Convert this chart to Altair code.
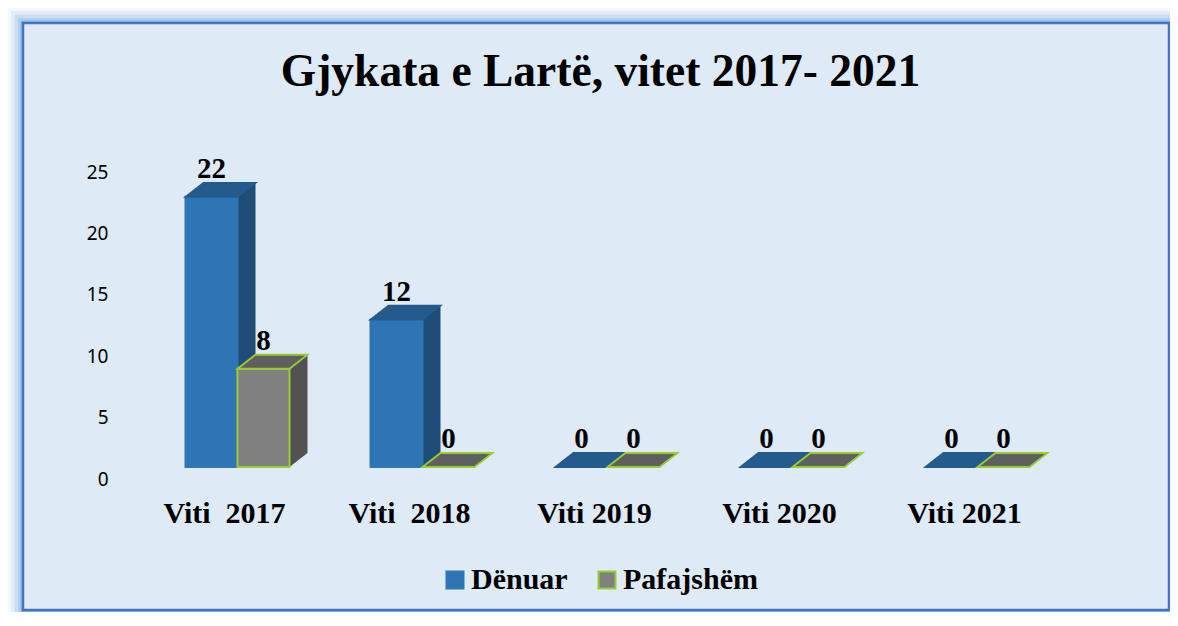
import altair as alt
import pandas as pd

# ---- data ----
years = ["Viti\u00a0\u00a02017", "Viti\u00a0\u00a02018", "Viti 2019", "Viti 2020", "Viti 2021"]
series = ["Dënuar", "Pafajshëm"]
denuar = [22, 12, 0, 0, 0]
pafajshem = [8, 0, 0, 0, 0]
y_ticks = [0, 5, 10, 15, 20, 25]
title_text = "Gjykata e Lartë, vitet 2017- 2021"

rows = []
for i, yr in enumerate(years):
    rows.append({"year": yr, "series": series[0], "value": denuar[i]})
    rows.append({"year": yr, "series": series[1], "value": pafajshem[i]})
df = pd.DataFrame(rows)

# ---- styles ----
BLUE, BLUE_SIDE, BLUE_TOP = "#2E75B6", "#1F4C78", "#255A8D"
GRAY, GRAY_SIDE, GRAY_TOP = "#808080", "#525252", "#5F5F5F"
LIME = "#99CC33"
SERIF = "Liberation Serif"
W, H = 955, 307
BAND = 104  # group band width in px (for 3D side offset)
DEPTH = 18

is_d = alt.datum.series == series[0]

x_enc = alt.X(
    "year:N", sort=years,
    scale=alt.Scale(paddingInner=0.4378, paddingOuter=0.3),
    axis=alt.Axis(title=None, labelFont=SERIF, labelFontWeight="bold", labelFontSize=30,
                  labelColor="black", labelAngle=0, ticks=False, tickSize=0, domain=False,
                  labelPadding=31, labelOffset=-13, zindex=2),
)
y_enc = alt.Y(
    "value:Q", scale=alt.Scale(domain=[0, 25], nice=False),
    axis=alt.Axis(title=None, values=y_ticks, grid=False, domain=False, ticks=False, tickSize=0,
                  labelFont="Noto Sans", labelFontSize=19, labelColor="black",
                  labelPadding=22, labelOffset=12, zindex=2),
)
xo = alt.XOffset("series:N", sort=series)

base = alt.Chart(df)

# panel background with glow
frame_df = pd.DataFrame({"a": [0]})
glows = []
for sw, col in [(30, "#F3F8FD"), (24, "#E2EDF9"), (17, "#CADDF3"), (10, "#B2CFEE"), (5, "#97BDE8")]:
    glows.append(
        alt.Chart(frame_df).mark_rect(fill=None, stroke=col, strokeWidth=sw).encode(
            x=alt.value(-107), x2=alt.value(1039), y=alt.value(-137), y2=alt.value(450))
    )
panel = alt.Chart(frame_df).mark_rect(fill="#DEEAF6", stroke="#4472C4", strokeWidth=2.5).encode(
    x=alt.value(-107), x2=alt.value(1039), y=alt.value(-137), y2=alt.value(450))

# side faces (shifted copy)
side = base.mark_bar(yOffset=-14, y2Offset=-14).encode(
    x=x_enc,
    xOffset=alt.XOffset("series:N", sort=series,
                        scale=alt.Scale(range=[DEPTH, DEPTH + BAND])),
    y=y_enc,
    color=alt.condition(is_d, alt.value(BLUE_SIDE), alt.value(GRAY_SIDE)),
)

# bottom triangle fill of side faces
tri_path = "M0.743,-0.4L0.743,0L1.257,-0.4Z"
bottom = base.mark_point(
    shape=tri_path, size=4900, filled=True, opacity=1).encode(
    x=x_enc, xOffset=xo,
    y=alt.Y("value:Q", scale=alt.Scale(domain=[0, 25], nice=False)),
    color=alt.condition(is_d, alt.value(BLUE_SIDE), alt.value(GRAY_SIDE)),
).transform_calculate(value="0")

legend_def = dict(title=None, orient="none", legendX=310, legendY=405,
                  direction="horizontal", symbolType="square",
                  symbolSize=289, symbolStrokeWidth=2, padding=0,
                  labelFont=SERIF, labelFontWeight="bold", labelFontSize=30,
                  labelColor="black", labelOffset=1, columnPadding=24, zindex=2)

# front faces
front = base.mark_bar(strokeWidth=2).encode(
    x=x_enc, xOffset=xo, y=y_enc,
    color=alt.Color("series:N", sort=series,
                    scale=alt.Scale(domain=series, range=[BLUE, GRAY]),
                    legend=alt.Legend(**legend_def)),
    stroke=alt.Stroke("series:N", sort=series,
                      scale=alt.Scale(domain=series, range=[BLUE, LIME]),
                      legend=alt.Legend(**legend_def)),
)

# top faces (parallelogram symbols)
top_path = "M-0.743,0L-0.229,-0.4L1.257,-0.4L0.743,0Z"
top = base.mark_point(shape=top_path, size=4900, filled=True, opacity=1, strokeWidth=1.8).encode(
    x=x_enc, xOffset=xo, y=y_enc,
    fill=alt.condition(is_d, alt.value(BLUE_TOP), alt.value(GRAY_TOP)),
    stroke=alt.condition(is_d, alt.value(BLUE_TOP), alt.value(LIME)),
)

labels = base.mark_text(font=SERIF, fontWeight="bold", fontSize=29, dy=-19,
                        baseline="alphabetic", color="black").encode(
    x=x_enc, xOffset=xo, y=y_enc, text=alt.Text("value:Q"),
)

chart = alt.layer(*glows, panel, side, bottom, front, top, labels).resolve_scale(
    xOffset="independent"
).properties(
    width=W, height=H,
    title=alt.TitleParams(title_text, font=SERIF, fontWeight="bold", fontSize=45.5,
                          color="black", anchor="middle", frame="group",
                          baseline="alphabetic", offset=-123, dx=-7, zindex=2),
    padding={"left": 122, "top": 152, "right": 85, "bottom": 145},
    autosize=alt.AutoSizeParams(type="none"),
    background="white",
).configure_view(stroke=None)

chart.save("out.html", embed_options={"renderer": "svg", "actions": False})
